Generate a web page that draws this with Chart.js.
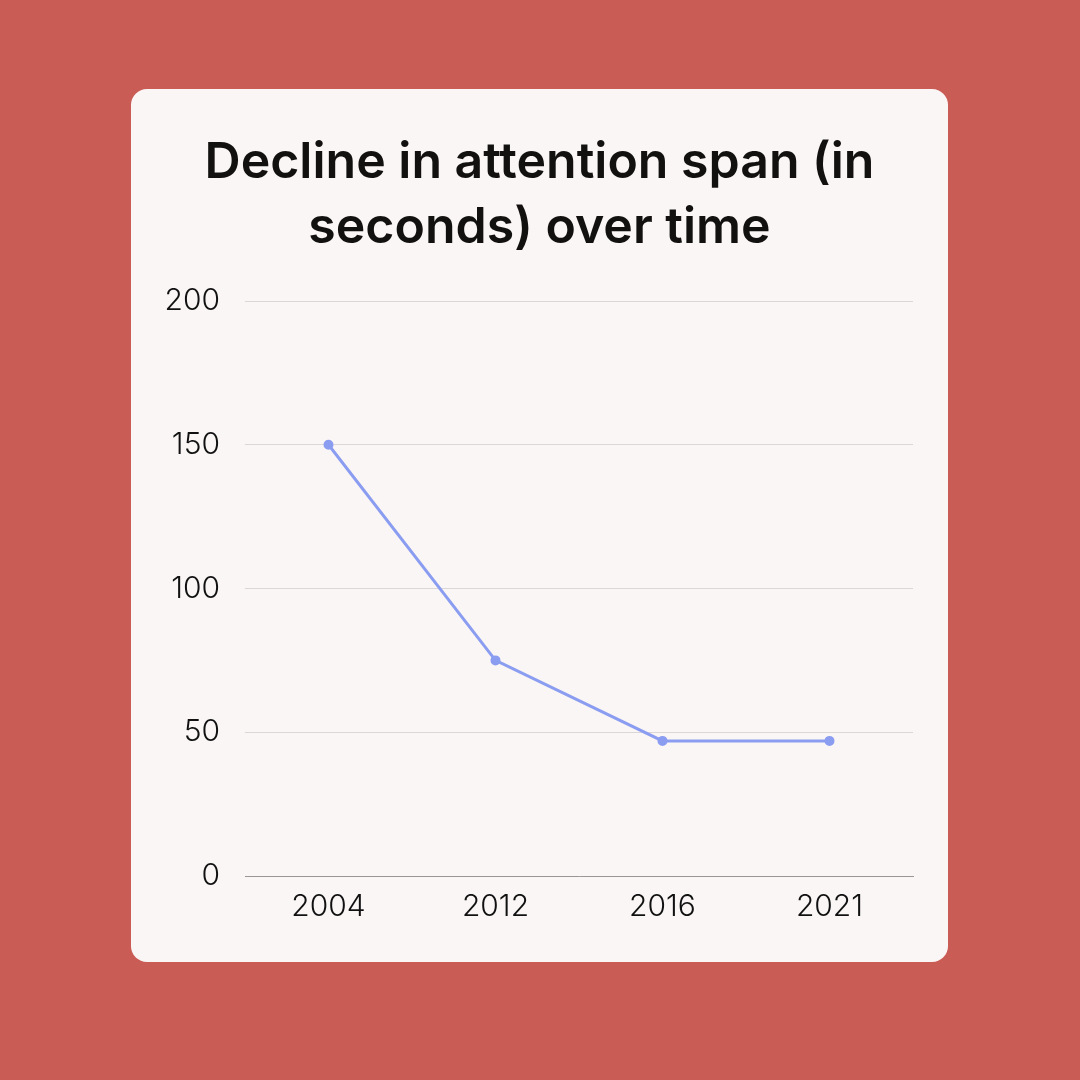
<!DOCTYPE html>
<html>
<head>
<meta charset="utf-8">
<script src="https://cdn.jsdelivr.net/npm/chart.js@4"></script>
<style>
  html, body { margin: 0; padding: 0; }
  body { width: 1080px; height: 1080px; background: #C95C55; position: relative; overflow: hidden; }
  #card { position: absolute; left: 131px; top: 89px; width: 817px; height: 873px; background: #FBF6F6; border-radius: 16px; overflow: hidden; }
  #card canvas { display: block; }
</style>
</head>
<body>
<div id="card"><canvas id="c" width="817" height="873"></canvas></div>
<script>
const titleLines = ["Decline in attention span (in", "seconds) over time"];
const years = ["2004", "2012", "2016", "2021"];
const attentionSeconds = [150, 75, 47, 47];
const yTicks = [0, 50, 100, 150, 200];

new Chart(document.getElementById('c'), {
  type: 'line',
  data: {
    labels: years,
    datasets: [{
      data: attentionSeconds,
      borderColor: '#8B9DF0',
      backgroundColor: '#8B9DF0',
      borderWidth: 3,
      pointRadius: 3.5,
      pointHoverRadius: 3.5,
      tension: 0,
      fill: false
    }]
  },
  options: {
    responsive: false,
    animation: false,
    devicePixelRatio: 1,
    layout: { padding: { left: 35, right: 35, top: 0, bottom: 0 } },
    plugins: {
      legend: { display: false },
      tooltip: { enabled: false },
      title: {
        display: true,
        text: titleLines,
        color: '#121110',
        font: { family: 'Inter', size: 50, weight: '600', lineHeight: 1.3 },
        padding: { top: 41, bottom: 41 }
      }
    },
    scales: {
      x: {
        offset: true,
        grid: { display: false, drawTicks: false },
        border: { display: true, color: '#9a9696', width: 1 },
        ticks: { color: '#111', font: { family: 'Inter', size: 30, weight: '300' }, padding: 13, maxRotation: 0 },
        afterFit: (s) => { s.height = 86; }
      },
      y: {
        min: 0,
        max: 200,
        afterBuildTicks: (s) => { s.ticks = yTicks.map(v => ({ value: v })); },
        grid: { color: '#DCD7D7', lineWidth: 1, drawTicks: false },
        border: { display: false },
        ticks: { color: '#111', font: { family: 'Inter', size: 30, weight: '300' }, padding: 25 },
        afterFit: (s) => { s.width = 79; }
      }
    }
  }
});
</script>
</body>
</html>
